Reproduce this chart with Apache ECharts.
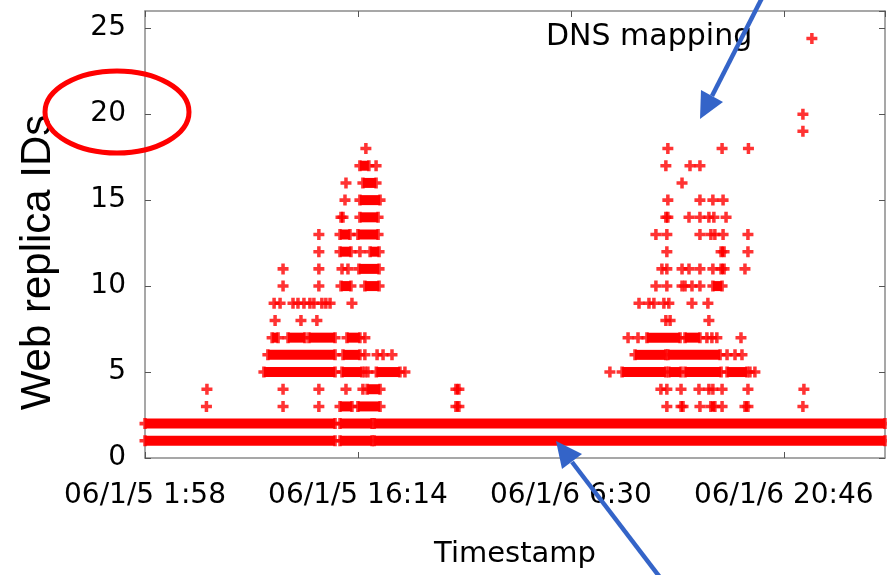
<!DOCTYPE html>
<html>
<head>
<meta charset="utf-8">
<script src="https://cdn.jsdelivr.net/npm/echarts@6/dist/echarts.min.js"></script>
<style>
  html, body { margin: 0; padding: 0; background: #fff; }
  #chart { width: 887px; height: 575px; }
</style>
</head>
<body>
<div id="chart"></div>
<script>
	/* x = minutes after 06/1/5 1:58, y = web replica ID */
	var xTickLabels = ['06/1/5 1:58', '06/1/5 16:14', '06/1/6 6:30', '06/1/6 20:46'];
	var xStep = 856;
	var xMax = 2975;
	var yMax = 26;
	var yStep = 5;

	// dense stretches of samples: [replicaId, from, to]
	var baseRuns = [
		[1, 0, 764], [1, 784, 913], [1, 921, 2975],
		[2, 0, 764], [2, 784, 913], [2, 921, 2975]
	];
	var day1Runs = [
		[3, 784, 832], [3, 856, 945], [3, 1250, 1262],
		[4, 893, 945], [4, 1250, 1262],
		[5, 478, 764], [5, 792, 872], [5, 930, 1025],
		[6, 494, 764], [6, 796, 864],
		[7, 511, 535], [7, 575, 643], [7, 659, 764], [7, 812, 864],
		[10, 788, 828], [10, 884, 941],
		[11, 860, 941],
		[12, 784, 828], [12, 905, 941],
		[13, 784, 824], [13, 856, 937],
		[14, 788, 796], [14, 864, 937],
		[15, 864, 945],
		[16, 876, 929],
		[17, 864, 900]
	];
	var day2Runs = [
		[3, 2155, 2163], [3, 2275, 2291], [3, 2412, 2424],
		[5, 1918, 2094], [5, 2106, 2155], [5, 2171, 2316], [5, 2340, 2420],
		[6, 1970, 2094], [6, 2102, 2312],
		[7, 2018, 2151], [7, 2171, 2231],
		[10, 2283, 2320],
		[11, 2316, 2328],
		[12, 2316, 2328],
		[14, 2094, 2102]
	];

	// single samples: [minute, replicaId]
	var day1Marks = [
		[247, 3], [555, 3], [699, 3],
		[249, 4], [555, 4], [699, 4], [808, 4], [876, 4],
		[884, 5], [896, 5], [1045, 5],
		[884, 6], [933, 6], [957, 6], [993, 6],
		[884, 7],
		[523, 8], [627, 8], [691, 8],
		[519, 9], [543, 9], [595, 9], [615, 9], [639, 9], [663, 9], [679, 9], [711, 9], [727, 9], [744, 9], [832, 9],
		[555, 10], [699, 10],
		[555, 11], [699, 11], [792, 11], [816, 11],
		[699, 12], [864, 12],
		[699, 13],
		[804, 15],
		[808, 16],
		[929, 17],
		[888, 18]
	];
	var day2Marks = [
		[2098, 3], [2231, 3], [2320, 3], [2645, 3],
		[2074, 4], [2098, 4], [2155, 4], [2227, 4], [2267, 4], [2283, 4], [2320, 4], [2424, 4], [2649, 4],
		[1869, 5], [2432, 5], [2452, 5],
		[2340, 6], [2372, 6], [2400, 6],
		[1942, 7], [1982, 7], [2259, 7], [2279, 7], [2299, 7], [2396, 7],
		[2094, 8], [2111, 8], [2267, 8],
		[1986, 9], [2026, 9], [2046, 9], [2086, 9], [2106, 9], [2199, 9], [2263, 9],
		[2054, 10], [2098, 10], [2159, 10], [2171, 10], [2199, 10], [2231, 10],
		[2078, 11], [2098, 11], [2159, 11], [2187, 11], [2231, 11], [2283, 11], [2412, 11],
		[2098, 12], [2424, 12],
		[2054, 13], [2098, 13], [2231, 13], [2275, 13], [2291, 13], [2324, 13], [2424, 13],
		[2187, 14], [2231, 14], [2267, 14], [2287, 14], [2336, 14],
		[2102, 15], [2231, 15], [2283, 15], [2324, 15],
		[2159, 16],
		[2094, 17], [2191, 17], [2231, 17],
		[2102, 18], [2320, 18], [2426, 18]
	];
	var lateMarks = [[2645, 19], [2645, 20], [2681, 24.4]];

	var allRuns = baseRuns.concat(day1Runs, day2Runs);
	var points = day1Marks.concat(day2Marks, lateMarks);
	for (var i = 0; i < allRuns.length; i++) {
		points.push([allRuns[i][1], allRuns[i][0]]);
		points.push([allRuns[i][2], allRuns[i][0]]);
	}

	var plusPath = 'path://M3.4,0H6.6V3.4H10V6.6H6.6V10H3.4V6.6H0V3.4H3.4Z';
	var axisGray = '#8a8a8a';
	var tickGray = '#555';
	var font = 'DejaVu Sans';

	function xLabel(v) {
		var k = Math.round(v / xStep);
		if (Math.abs(v - k * xStep) > 0.5 || !xTickLabels[k]) return '';
		return xTickLabels[k];
	}

	var myChart = echarts.init(document.getElementById('chart'));
	var option = {
		animation: false,
		backgroundColor: '#fff',
		grid: { left: 145, right: 2, top: 11, bottom: 117, containLabel: false, outerBoundsMode: 'none' },
		xAxis: [{
			type: 'value', position: 'bottom', min: 0, max: xMax, interval: xStep,
			axisLine: { onZero: false, lineStyle: { color: axisGray, width: 1.5 } },
			axisTick: { inside: true, length: 6, lineStyle: { color: tickGray } },
			axisLabel: { formatter: xLabel, color: '#000', fontFamily: font, fontSize: 28, margin: 24, showMaxLabel: false },
			splitLine: { show: false },
			name: 'Timestamp', nameLocation: 'middle', nameGap: 82,
			nameTextStyle: { color: '#000', fontFamily: font, fontSize: 29 }
		}, {
			type: 'value', position: 'top', min: 0, max: xMax, interval: xStep,
			axisLine: { onZero: false, lineStyle: { color: axisGray, width: 1.5 } },
			axisTick: { inside: true, length: 6, lineStyle: { color: tickGray } },
			axisLabel: { show: false },
			splitLine: { show: false }
		}],
		yAxis: [{
			type: 'value', position: 'left', min: 0, max: yMax, interval: yStep,
			axisLine: { show: true, onZero: false, lineStyle: { color: axisGray, width: 1.5 } },
			axisTick: { show: true, inside: true, length: 6, lineStyle: { color: tickGray } },
			axisLabel: { color: '#000', fontFamily: font, fontSize: 28, margin: 19, showMaxLabel: false },
			splitLine: { show: false },
			name: 'Web replica IDs', nameLocation: 'middle', nameGap: 86,
			nameTextStyle: { color: '#000', fontFamily: 'Liberation Sans', fontSize: 42, padding: [0, 56, 0, 0] }
		}, {
			type: 'value', position: 'right', min: 0, max: yMax, interval: yStep,
			axisLine: { show: true, onZero: false, lineStyle: { color: axisGray, width: 1.5 } },
			axisTick: { show: true, inside: true, length: 6, lineStyle: { color: tickGray } },
			axisLabel: { show: false },
			splitLine: { show: false }
		}],
		series: [{
			type: 'custom',
			xAxisIndex: 0, yAxisIndex: 0,
			encode: { x: [1, 2], y: 0 },
			data: allRuns,
			renderItem: function (params, api) {
				var a = api.coord([api.value(1), api.value(0)]);
				var b = api.coord([api.value(2), api.value(0)]);
				return {
					type: 'rect',
					shape: { x: a[0], y: a[1] - 5, width: b[0] - a[0], height: 10 },
					style: { fill: '#ff0000' }
				};
			}
		}, {
			type: 'scatter',
			xAxisIndex: 0, yAxisIndex: 0,
			symbol: plusPath,
			symbolSize: 11,
			clip: false,
			itemStyle: { color: '#ff0000' },
			data: points
		}],
		graphic: [
			{ type: 'text', left: 546, top: 22, z: 10,
			  style: { text: 'DNS mapping', font: '30px "DejaVu Sans"', fill: '#000' } },
			{ type: 'ellipse', z: 10, shape: { cx: 117, cy: 112, rx: 72, ry: 41 },
			  style: { fill: null, stroke: '#ff0000', lineWidth: 5 } },
			{ type: 'line', z: 10, shape: { x1: 763, y1: -4, x2: 712, y2: 96 },
			  style: { stroke: '#3464c8', lineWidth: 4.5 } },
			{ type: 'polygon', z: 10, shape: { points: [[700, 119], [723, 102], [701, 90]] },
			  style: { fill: '#3464c8' } },
			{ type: 'line', z: 10, shape: { x1: 662, y1: 580, x2: 572, y2: 462 },
			  style: { stroke: '#3464c8', lineWidth: 4.5 } },
			{ type: 'polygon', z: 10, shape: { points: [[556, 441], [582, 454], [562, 469]] },
			  style: { fill: '#3464c8' } }
		]
	};
	myChart.setOption(option);
</script>
</body>
</html>
